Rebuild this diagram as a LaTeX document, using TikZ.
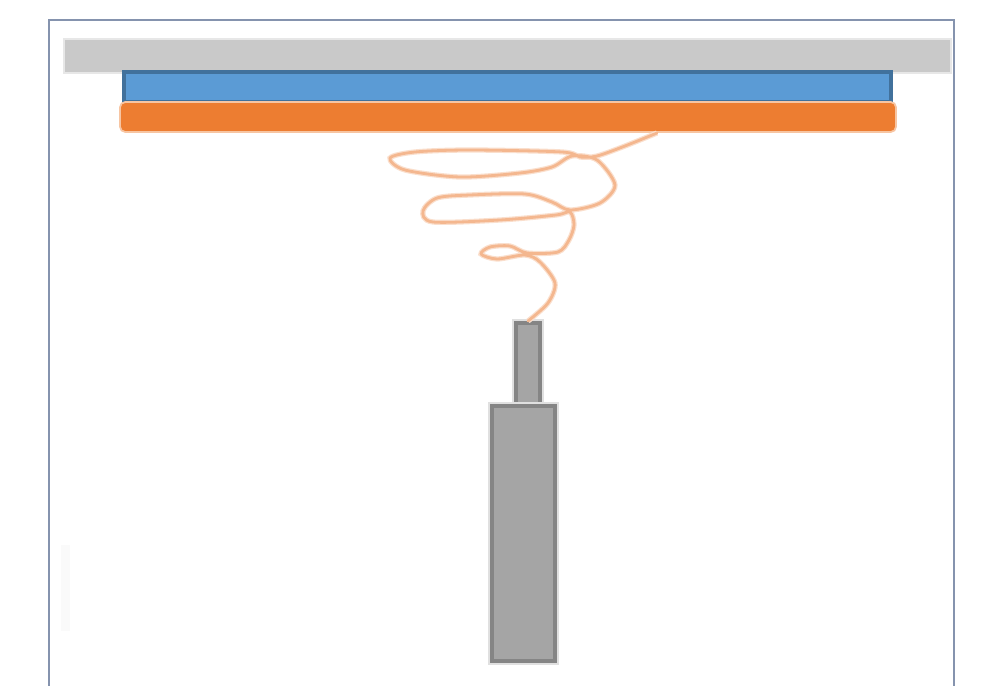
\documentclass[tikz,border=0pt]{standalone}
\usepackage{xcolor}
\definecolor{framegray}{HTML}{8593AE}
\definecolor{ceilinggray}{HTML}{C9C9C9}
\definecolor{platefill}{HTML}{5B9BD5}
\definecolor{plateedge}{HTML}{41719C}
\definecolor{padorange}{HTML}{ED7D31}
\definecolor{coilorange}{HTML}{F4B78F}
\definecolor{rodfill}{HTML}{A5A5A5}
\definecolor{rodedge}{HTML}{858585}
\tikzset{
  framebox/.style={draw=framegray,line width=1.1pt},
  ceilingbar/.style={fill=ceilinggray,draw=ceilinggray!45,line width=1.6pt},
  platebar/.style={fill=platefill,draw=plateedge,line width=2.4pt},
  padbar/.style={fill=padorange,draw=padorange!45,line width=1pt,rounded corners=3pt},
  rodbar/.style={fill=rodfill,draw=rodedge,line width=2.6pt,preaction={draw=rodedge!25,line width=4pt}},
  coilwire/.style={draw=coilorange,line width=1.6pt,line cap=round,line join=round,
    preaction={draw=coilorange!45,line width=3pt}}
}

\begin{document}
\begin{tikzpicture}[x=0.02cm,y=-0.02cm]
  \useasboundingbox (0,0) rectangle (988,686);
  % outer frame runs off the bottom
  \draw[framebox] (49,686) -- (49,20) -- (954,20) -- (954,686);
  \fill[black!2] (61,545) rectangle (70,631);
  % bars at the top
  \draw[ceilingbar] (64,39) rectangle (951,73);
  \draw[platebar] (124,72) rectangle (891,102);
  \draw[padbar] (120,102) rectangle (896,132);
  % rod
  \draw[rodbar] (516,323) rectangle (540,406);
  \draw[rodbar] (492,406) rectangle (555,661);
  % coiled wire
  \draw[coilwire] plot[smooth,tension=0.5] coordinates {
    (657,133) (625,146) (597,156) (580,157) (562,152) (470,150) (415,152) (390,158)
    (405,170) (460,177) (520,173) (552,167) (572,156) (597,160) (615,185) (600,203)
    (570,210) (552,202) (525,194) (470,195) (437,198) (423,211) (433,222) (500,220)
    (556,215) (570,212) (574,225) (569,240) (558,252) (527,253) (510,246) (490,247) (481,254)
    (497,259) (525,255) (540,262) (555,283) (548,303) (528,321)};
\end{tikzpicture}
\end{document}
